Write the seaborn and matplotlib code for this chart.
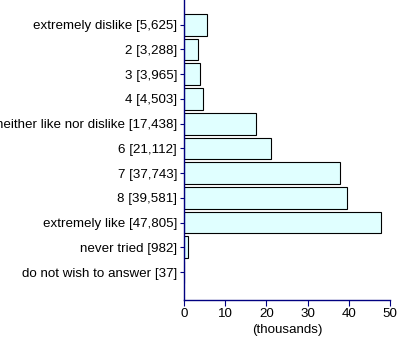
import matplotlib
matplotlib.use("Agg")
import matplotlib.pyplot as plt
import seaborn as sns
import pandas as pd

categories = ["extremely dislike", "2", "3", "4", "neither like nor dislike",
              "6", "7", "8", "extremely like", "never tried", "do not wish to answer"]
counts = [5625, 3288, 3965, 4503, 17438, 21112, 37743, 39581, 47805, 982, 37]
xticks = [0, 10, 20, 30, 40, 50]

labels = [f"{c} [{n:,}]" for c, n in zip(categories, counts)]
df = pd.DataFrame({"label": labels, "value": [n / 1000 for n in counts]})

sns.set_style("white")
plt.rcParams['font.family'] = ['Liberation Sans', 'DejaVu Sans']
plt.rcParams['text.color'] = 'black'
plt.rcParams['xtick.color'] = 'black'
plt.rcParams['ytick.color'] = 'black'
plt.rcParams['axes.labelcolor'] = 'black'

fs = 9.6
fig = plt.figure(figsize=(4.0, 3.42), dpi=100)
ax = fig.add_axes([0.46, 1 - 300 / 342, 0.975 - 0.46, 300 / 342])
sns.barplot(data=df, x="value", y="label", orient="h", ax=ax,
            color="#e0ffff", edgecolor="black", linewidth=0.8, width=0.88,
            saturation=1)
ax.set_xlim(0, 50)
ax.set_ylim(11.13, -1.0)
ax.set_xticks(xticks)
ax.set_xticklabels([str(t) for t in xticks], fontsize=fs)
ax.tick_params(axis="y", labelsize=fs, length=3, color="#000080", labelcolor="black", pad=2, left=True)
ax.tick_params(axis="x", length=4, color="#000080", labelcolor="black", pad=2, bottom=True)
ax.set_ylabel("")
ax.set_xlabel("(thousands)", fontsize=fs, labelpad=3, color="black")
for s in ["top", "right"]:
    ax.spines[s].set_visible(False)
for s in ["left", "bottom"]:
    ax.spines[s].set_color("#000080")
    ax.spines[s].set_linewidth(1.0)
fig.savefig("out.png", dpi=100)
